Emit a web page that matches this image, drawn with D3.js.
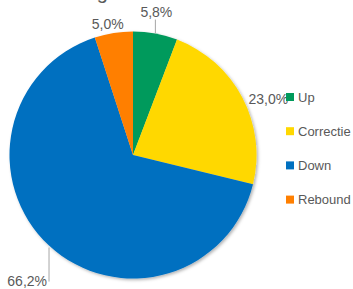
<!DOCTYPE html>
<html>
<head>
<meta charset="utf-8">
<script src="https://cdn.jsdelivr.net/npm/d3@7"></script>
<style>
  html, body { margin: 0; padding: 0; background: #fff; }
  svg { display: block; }
</style>
</head>
<body>
<svg id="chart" width="353" height="289"></svg>
<script>
// chart data
const categories = ['Up', 'Correctie', 'Down', 'Rebound'];
const values = [5.8, 23.0, 66.2, 5.0];
const labels = ['5,8%', '23,0%', '66,2%', '5,0%'];
const colors = ['#009A5B', '#FFD800', '#0070C0', '#FF7F00'];

const width = 353;
const height = 289;
const cx = 133, cy = 155, radius = 123.5;

const svg = d3.select('#chart');

const defs = svg.append('defs');
const shadow = defs.append('filter').attr('id', 'shadow')
  .attr('x', '-10%').attr('y', '-10%').attr('width', '130%').attr('height', '130%');
shadow.append('feDropShadow')
  .attr('dx', 1.5).attr('dy', 1.5).attr('stdDeviation', 1.8)
  .attr('flood-color', '#000').attr('flood-opacity', 0.3);

// title, mostly cut off above the top edge
svg.append('text')
  .attr('x', 108).attr('y', -1)
  .attr('text-anchor', 'end')
  .style('font-family', '"Liberation Sans", Arial, sans-serif')
  .style('font-size', '20px')
  .style('fill', '#595959')
  .text('Verdeling');

const pie = d3.pie().sort(null).value(d => d);
const arcs = pie(values);
const arc = d3.arc().innerRadius(0).outerRadius(radius);

const g = svg.append('g').attr('transform', `translate(${cx},${cy})`);

g.append('g').attr('filter', 'url(#shadow)')
  .selectAll('path')
  .data(arcs)
  .enter()
  .append('path')
  .attr('d', arc)
  .style('fill', (d, i) => colors[i]);

// label placement relative to the outer point of each slice
const edge = d => {
  const a = (d.startAngle + d.endAngle) / 2;
  return [radius * Math.sin(a), -radius * Math.cos(a)];
};
const labelOffset = [[1, -17], [26, 6], [-2, 40], [-6, -4]];
const labelAnchor = ['middle', 'middle', 'end', 'middle'];
const leader = [[0, -14], null, [0, 36], null];

g.selectAll('.leader')
  .data(arcs.filter((d, i) => leader[i]))
  .enter()
  .append('line')
  .attr('class', 'leader')
  .attr('x1', d => edge(d)[0])
  .attr('y1', d => edge(d)[1] + (d.index === 2 ? 2 : 0))
  .attr('x2', d => edge(d)[0] + leader[d.index][0])
  .attr('y2', d => edge(d)[1] + leader[d.index][1])
  .style('stroke', '#a6a6a6')
  .style('stroke-width', 1);

g.selectAll('.label')
  .data(arcs)
  .enter()
  .append('text')
  .attr('class', 'label')
  .attr('x', d => edge(d)[0] + labelOffset[d.index][0])
  .attr('y', d => edge(d)[1] + labelOffset[d.index][1])
  .attr('text-anchor', d => labelAnchor[d.index])
  .style('font-family', '"Liberation Sans", Arial, sans-serif')
  .style('font-size', '14px')
  .style('fill', '#595959')
  .text((d, i) => labels[i]);

// legend
const legend = svg.append('g').attr('transform', 'translate(286,93)');
const item = legend.selectAll('g')
  .data(categories)
  .enter()
  .append('g')
  .attr('transform', (d, i) => `translate(0,${i * 34.2})`);

item.append('rect')
  .attr('width', 8).attr('height', 8)
  .style('fill', (d, i) => colors[i]);

item.append('text')
  .attr('x', 12).attr('y', 8.5)
  .style('font-family', '"Liberation Sans", Arial, sans-serif')
  .style('font-size', '13px')
  .style('fill', '#595959')
  .text(d => d);
</script>
</body>
</html>
